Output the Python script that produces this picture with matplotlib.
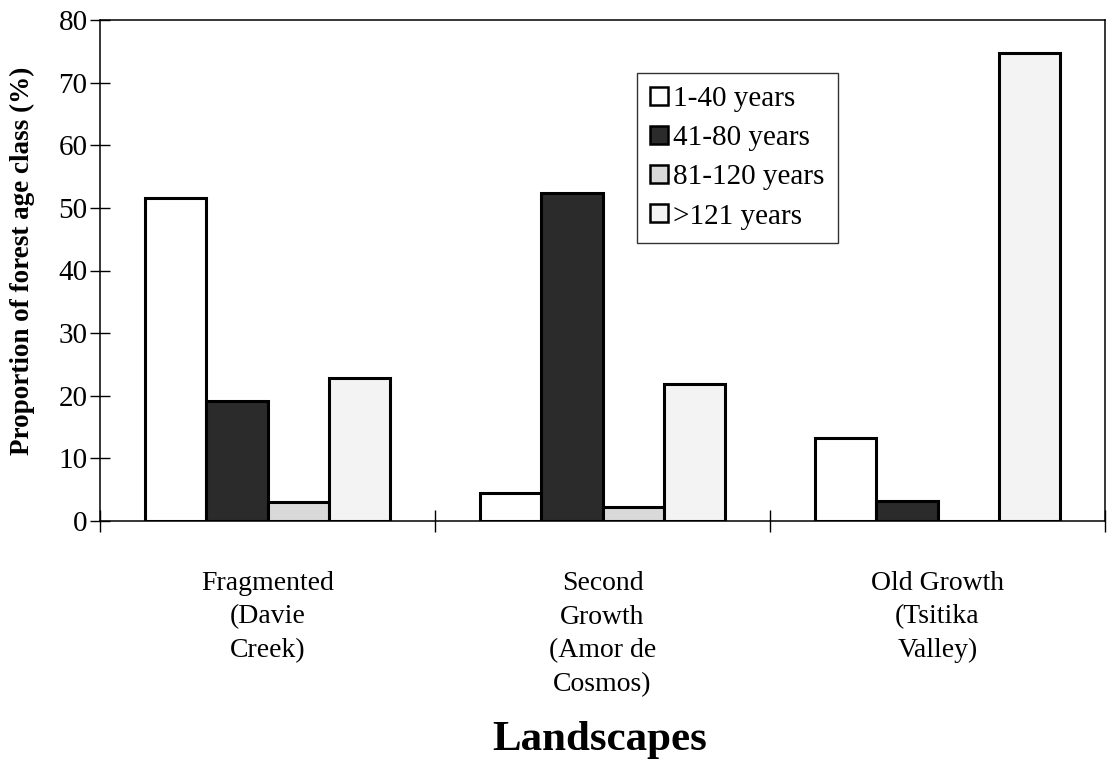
import numpy as np
import matplotlib
matplotlib.use("Agg")
import matplotlib.pyplot as plt

plt.rcParams['font.family'] = ['Liberation Serif', 'DejaVu Serif']

# data
landscapes = ['Fragmented\n(Davie\nCreek)', 'Second\nGrowth\n(Amor de\nCosmos)', 'Old Growth\n(Tsitika\nValley)']
age_classes = ['1-40 years', '41-80 years', '81-120 years', '>121 years']
yrs_1_40 = [51.5, 4.5, 13.3]
yrs_41_80 = [19.2, 52.3, 3.2]
yrs_81_120 = [3.0, 2.2, 0.0]
yrs_121 = [22.8, 21.8, 74.8]
colours = ['white', '#2b2b2b', '#d9d9d9', '#f3f3f3']

fig = plt.figure(figsize=(11.13, 7.65), dpi=100)
ax = fig.add_axes([100 / 1113, 1 - 521 / 765, 1005 / 1113, 501 / 765])

x = np.arange(len(landscapes)) + 0.5
w = 0.183
series = [yrs_1_40, yrs_41_80, yrs_81_120, yrs_121]
for i, vals in enumerate(series):
    ax.bar(x + (i - 1.5) * w, vals, width=w, color=colours[i],
           edgecolor='black', linewidth=2.2, label=age_classes[i], zorder=3)

ax.set_xlim(0, 3)
ax.set_ylim(0, 80)
ax.set_yticks(range(0, 81, 10))
ax.set_xticks([0, 1, 2, 3])
ax.set_xticklabels([])
ax.set_xticks(x, minor=True)
ax.set_xticklabels(landscapes, minor=True, fontsize=20, linespacing=1.45)
ax.tick_params(axis='x', which='minor', length=0, pad=36)
ax.tick_params(axis='x', which='major', direction='inout', length=16, width=1)
ax.tick_params(axis='y', direction='inout', length=14, width=1, labelsize=21, pad=2)
for s in ax.spines.values():
    s.set_linewidth(1.1)

ax.set_ylabel('Proportion of forest age class (%)', fontsize=19.5, fontweight='bold')
ax.yaxis.set_label_coords(-0.065, 0.52)
fig.text(600 / 1113, 1 - 740 / 765, 'Landscapes', fontsize=31, fontweight='bold',
         ha='center', va='center')

leg = ax.legend(loc='upper left', bbox_to_anchor=(537 / 1005, 1 - 53 / 501),
                fontsize=21, frameon=True, fancybox=False, handlelength=0.6,
                handleheight=0.6, handletextpad=0.2, labelspacing=0.45,
                borderpad=0.45, borderaxespad=0)
leg.get_frame().set_edgecolor('black')
leg.get_frame().set_linewidth(1.0)
for h in leg.legend_handles:
    h.set_linewidth(1.8)

fig.savefig('out.png', dpi=100)
